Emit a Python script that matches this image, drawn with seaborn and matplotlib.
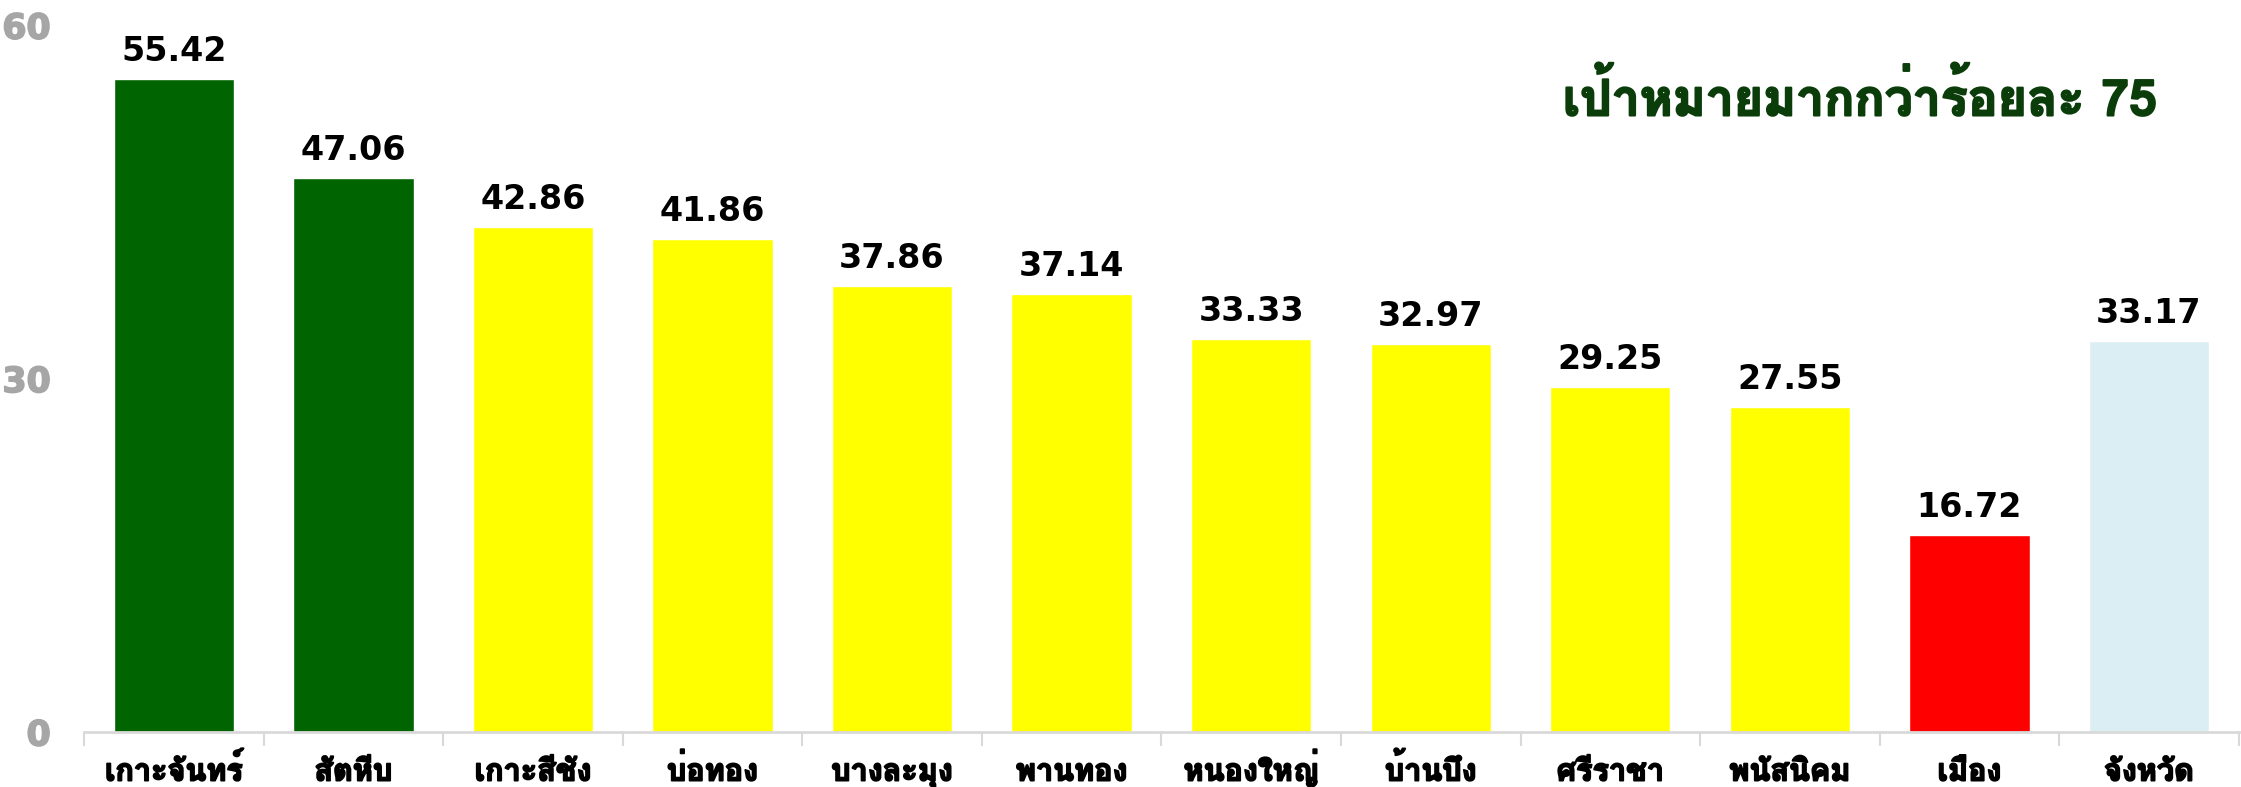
import matplotlib
matplotlib.use("Agg")
import matplotlib.pyplot as plt
import matplotlib.patheffects as pe
import seaborn as sns
import pandas as pd
from matplotlib import font_manager as fm
from matplotlib.ft2font import FT2Font
from matplotlib.ticker import FixedLocator

categories = ["เกาะจันทร์", "สัตหีบ", "เกาะสีชัง", "บ่อทอง", "บางละมุง", "พานทอง",
              "หนองใหญ่", "บ้านบึง", "ศรีราชา", "พนัสนิคม", "เมือง", "จังหวัด"]
values = [55.42, 47.06, 42.86, 41.86, 37.86, 37.14, 33.33, 32.97, 29.25, 27.55, 16.72, 33.17]
bar_colors = ["#006400", "#006400", "#FFFF00", "#FFFF00", "#FFFF00", "#FFFF00",
              "#FFFF00", "#FFFF00", "#FFFF00", "#FFFF00", "#FF0000", "#DAEEF3"]
yticks = [0, 30, 60]
title_text = "เป้าหมายมากกว่าร้อยละ 75"


def find_thai_family():
    best = None
    for f in fm.fontManager.ttflist:
        try:
            ft = FT2Font(f.fname)
            if ft.get_char_index(0x0E01):
                w = f.weight if isinstance(f.weight, int) else (700 if "bold" in str(f.weight).lower() else 400)
                score = (1 if w >= 600 else 0)
                if best is None or score > best[0]:
                    best = (score, f.name)
        except Exception:
            pass
    return best[1] if best else "DejaVu Sans"


sns.set_theme(style="white")
thai = find_thai_family()
plt.rcParams['font.family'] = [thai, 'DejaVu Sans']

df = pd.DataFrame({"cat": categories, "val": values})
pal = dict(zip(categories, bar_colors))

fig = plt.figure(figsize=(22.41, 7.87), dpi=100)
ax = fig.add_axes([0.0375, 0.0699, 0.9615, 0.8981])
sns.barplot(data=df, x="cat", y="val", hue="cat", palette=pal, dodge=False,
            legend=False, width=0.67, saturation=1, ax=ax)

ax.set_ylim(0, 60)
ax.set_xlim(-0.5, len(categories) - 0.5)
ax.set_yticks(yticks)
ax.set_yticklabels([str(t) for t in yticks])
for lab in ax.get_yticklabels():
    lab.set_fontfamily(["DejaVu Sans"])
    lab.set_fontsize(25)
    lab.set_fontweight("bold")
    lab.set_color("#A6A6A6")
    lab.set_path_effects([pe.withStroke(linewidth=1.2, foreground="#A6A6A6")])
ax.tick_params(axis="y", length=0, pad=24)
ax.set_xticks(range(len(categories)))
ax.set_xticklabels(categories, fontsize=22, fontweight="bold", color="black")
for lab in ax.get_xticklabels():
    lab.set_verticalalignment("baseline")
    lab.set_path_effects([pe.withStroke(linewidth=1.3, foreground="black")])
ax.tick_params(axis="x", which="major", length=0, pad=35)
ax.xaxis.set_minor_locator(FixedLocator([i - 0.5 for i in range(len(categories) + 1)]))
ax.tick_params(axis="x", which="minor", length=10, width=1.5, color="#D9D9D9", bottom=True)
ax.set_xlabel("")
ax.set_ylabel("")
for s in ["top", "right", "left"]:
    ax.spines[s].set_visible(False)
ax.spines["bottom"].set_color("#D9D9D9")
ax.spines["bottom"].set_linewidth(2)
ax.grid(False)

for i, v in enumerate(values):
    ax.annotate(f"{v:.2f}", (i, v), xytext=(0, 13), textcoords="offset points",
                ha="center", va="baseline", fontsize=24, fontweight="bold",
                color="black", family=["DejaVu Sans"])

ax.text(0.962, 0.897, title_text, transform=ax.transAxes, ha="right", va="center",
        fontsize=36, fontweight="bold", color="#0B3D0B",
        path_effects=[pe.withStroke(linewidth=1.5, foreground="#0B3D0B")])

fig.savefig("out.png", dpi=100)
